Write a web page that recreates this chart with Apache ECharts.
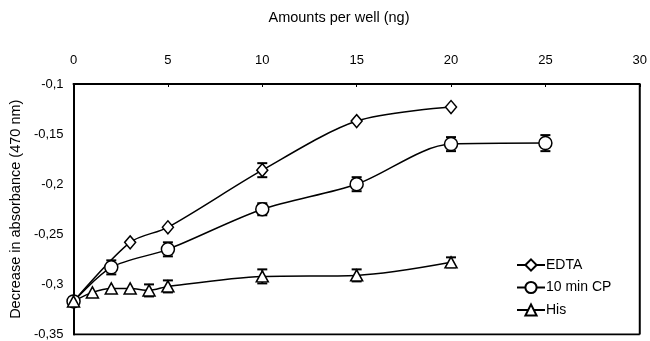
<!DOCTYPE html>
<html>
<head>
<meta charset="utf-8">
<script src="https://cdn.jsdelivr.net/npm/echarts@6/dist/echarts.min.js"></script>
<style>html,body{margin:0;padding:0;background:#fff;}#c{width:650px;height:341px;}</style>
</head>
<body>
<div id="c"></div>
<script>
var xTicks = [0, 5, 10, 15, 20, 25, 30];
var edtaX = [0, 3, 5, 10, 15, 20];
var edtaY = [-0.317, -0.258, -0.243, -0.186, -0.137, -0.123];
var edtaErr = [0, 0, 0, 0.007, 0, 0];
var cpX = [0, 2, 5, 10, 15, 20, 25];
var cpY = [-0.317, -0.283, -0.265, -0.225, -0.200, -0.160, -0.159];
var cpErr = [0, 0.007, 0.007, 0.006, 0.007, 0.007, 0.008];
var hisX = [0, 1, 2, 3, 4, 5, 10, 15, 20];
var hisY = [-0.317, -0.308, -0.304, -0.304, -0.306, -0.302, -0.292, -0.291, -0.278];
var hisErr = [0, 0, 0, 0, 0.006, 0.006, 0.007, 0.006, 0.005];

function pairs(xs, ys) { return xs.map(function (x, i) { return [x, ys[i]]; }); }
function errData(xs, ys, es) {
  var out = [];
  xs.forEach(function (x, i) { if (es[i] > 0) out.push([x, ys[i] - es[i], ys[i] + es[i]]); });
  return out;
}
function errSeries(data) {
  return {
    type: 'custom', data: data, silent: true, z: 1,
    encode: { x: 0, y: [1, 2] },
    renderItem: function (params, api) {
      var lo = api.coord([api.value(0), api.value(1)]);
      var hi = api.coord([api.value(0), api.value(2)]);
      var w = 5;
      var st = { stroke: '#000', lineWidth: 2 };
      return { type: 'group', children: [
        { type: 'line', shape: { x1: lo[0], y1: lo[1], x2: hi[0], y2: hi[1] }, style: st },
        { type: 'line', shape: { x1: lo[0] - w, y1: lo[1], x2: lo[0] + w, y2: lo[1] }, style: st },
        { type: 'line', shape: { x1: hi[0] - w, y1: hi[1], x2: hi[0] + w, y2: hi[1] }, style: st }
      ]};
    }
  };
}
function fmt(v) { return String(Math.round(v * 100) / 100).replace('.', ','); }

var FONT = 'Liberation Sans, Arial, sans-serif';
var chart = echarts.init(document.getElementById('c'), null, { renderer: 'canvas' });
var lineStyle = { color: '#000', width: 1.5 };
var itemStyle = { color: '#fff', borderColor: '#000', borderWidth: 1.5 };
chart.setOption({
  animation: false,
  textStyle: { fontFamily: FONT },
  grid: { left: 72, top: 84, right: 8, bottom: 4 },
  graphic: [{
    type: 'text', x: 339, y: 18,
    style: { text: 'Amounts per well (ng)', fontSize: 14.5, fill: '#000', fontFamily: FONT, align: 'center', verticalAlign: 'middle' }
  }],
  legend: {
    orient: 'vertical', left: 511, top: 253, itemWidth: 28, itemHeight: 14, itemGap: 8.5,
    textStyle: { fontSize: 14, color: '#000', padding: [0, 0, 0, -4] },
    data: ['EDTA', '10 min CP', 'His']
  },
  xAxis: {
    type: 'value', position: 'top', min: 0, max: 30, interval: 5,
    axisLine: { show: true, lineStyle: { color: '#000', width: 2 } },
    axisTick: { show: true, inside: true, length: 3, lineStyle: { color: '#000' } },
    axisLabel: { color: '#000', fontSize: 13, margin: 17, formatter: function (v) { return xTicks.indexOf(v) >= 0 ? String(v) : ''; } },
    splitLine: { show: false }
  },
  yAxis: {
    type: 'value', min: -0.35, max: -0.1, interval: 0.05,
    name: 'Decrease in absorbance (470 nm)', nameLocation: 'middle', nameGap: 48,
    nameTextStyle: { fontSize: 14.5, color: '#000' },
    axisLine: { show: true, lineStyle: { color: '#000', width: 2 } },
    axisTick: { show: false },
    axisLabel: { color: '#000', fontSize: 13, margin: 10, formatter: fmt },
    splitLine: { show: false }
  },
  series: [
    { name: 'EDTA', type: 'line', data: pairs(edtaX, edtaY), smooth: 0.3, symbol: 'diamond', symbolSize: [11, 13], lineStyle: lineStyle, itemStyle: itemStyle, z: 3 },
    { name: '10 min CP', type: 'line', data: pairs(cpX, cpY), smooth: 0.3, symbol: 'circle', symbolSize: 13, lineStyle: lineStyle, itemStyle: itemStyle, z: 3 },
    { name: 'His', type: 'line', data: pairs(hisX, hisY), smooth: 0.3, symbol: 'triangle', symbolSize: [12, 11], lineStyle: lineStyle, itemStyle: itemStyle, z: 3 },
    errSeries(errData(edtaX, edtaY, edtaErr)),
    errSeries(errData(cpX, cpY, cpErr)),
    errSeries(errData(hisX, hisY, hisErr)),
    {
      type: 'line', data: [[30, -0.35], [30, -0.1]], symbol: 'none', silent: true,
      lineStyle: { color: '#000', width: 2 }, z: 0
    },
    {
      type: 'line', data: [[0, -0.35], [30, -0.35]], symbol: 'none', silent: true,
      lineStyle: { color: '#000', width: 2 }, z: 0
    }
  ]
});
</script>
</body>
</html>
